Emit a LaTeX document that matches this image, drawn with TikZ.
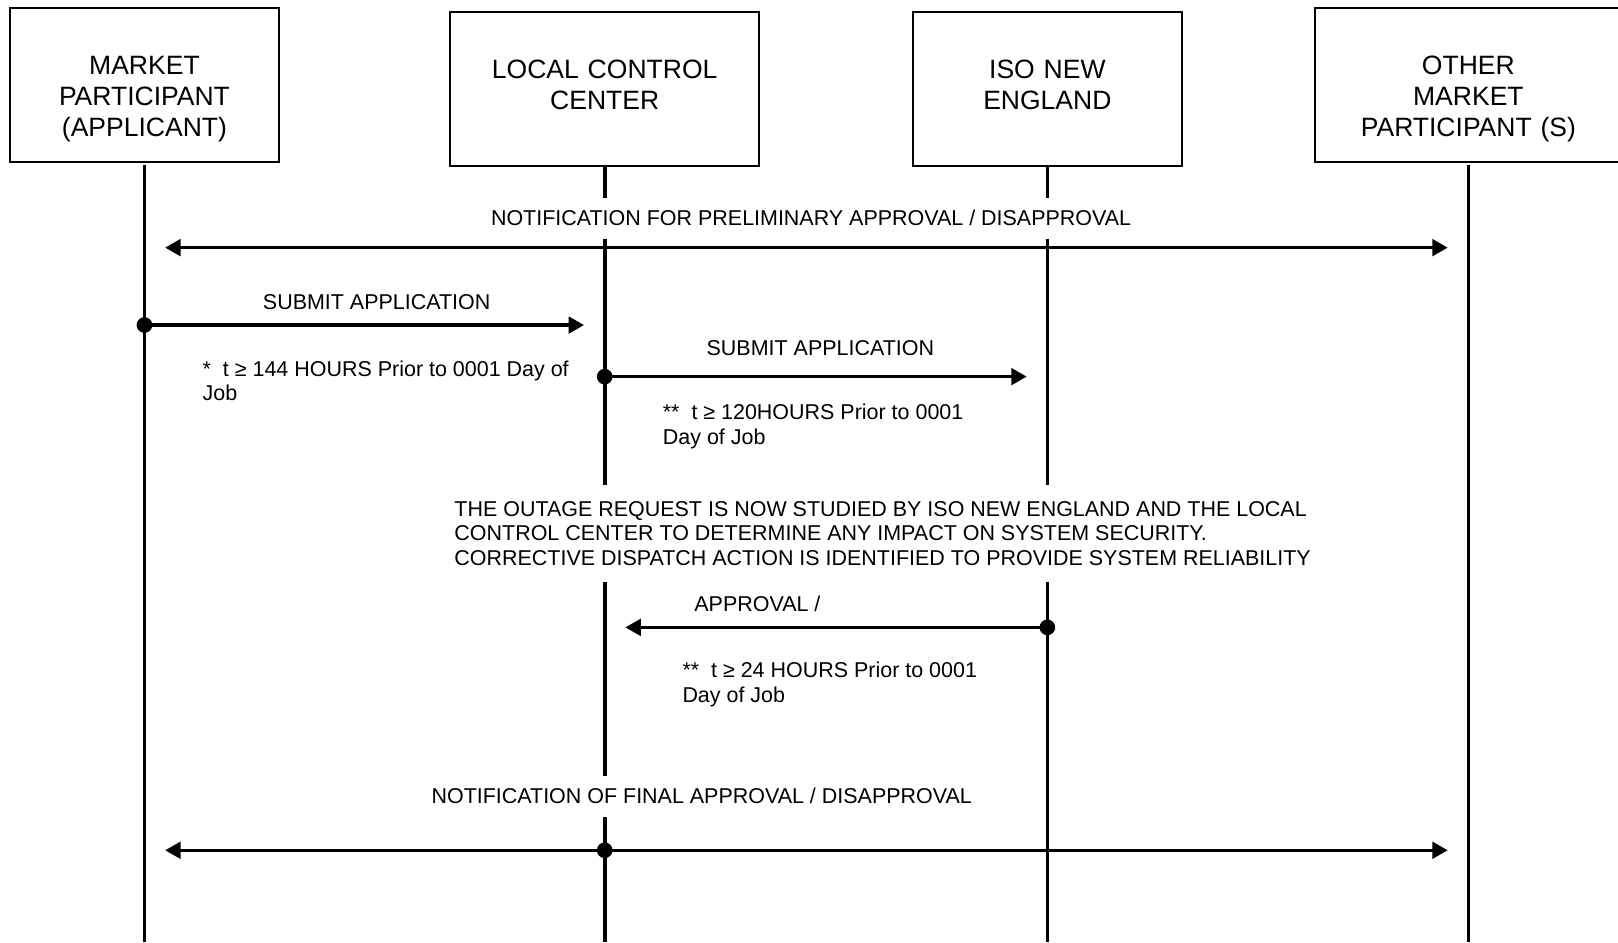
\documentclass[tikz,border=0pt]{standalone}
\usepackage{fontspec}
\setmainfont{Liberation Sans}
\usetikzlibrary{arrows.meta, positioning}

\tikzset{
  actor/.style={draw, line width=1pt, align=center, inner sep=0pt,
    minimum height=74.5pt, text height=32.1pt, text depth=42.4pt,
    font=\fontsize{12.85}{15}\selectfont},
  lifeline/.style={line width=1.8pt},
  msgtext/.style={fill=white, inner xsep=2pt, inner ysep=6pt,
    text height=7.5pt, text depth=0.5pt, font=\fontsize{10.4}{12}\selectfont},
  note/.style={align=left, inner sep=0pt, font=\fontsize{10.4}{12}\selectfont},
  study/.style={fill=white, align=left, inner xsep=2pt, inner ysep=8pt,
    font=\fontsize{10.4}{12}\selectfont},
  msg/.style={line width=1.7pt, -{Triangle[length=7.5pt,width=8pt]},
    shorten >=10pt},
  bimsg/.style={line width=1.7pt,
    {Triangle[length=7.5pt,width=8pt]}-{Triangle[length=7.5pt,width=8pt]},
    shorten >=10pt, shorten <=10pt}
}

\begin{document}
\begin{tikzpicture}[x=0.5pt, y=-0.5pt]
  \useasboundingbox (0,0) rectangle (1568,913);

  % participants
  \node[actor, text width=130.5pt, anchor=north] (mp) at (140,7)
    {MARKET\\PARTICIPANT\\(APPLICANT)};
  \node[actor, text width=149.5pt, anchor=north] (lcc) at (586,11)
    {LOCAL CONTROL\\CENTER};
  \node[actor, text width=130.5pt, anchor=north] (iso) at (1015,11)
    {ISO NEW\\ENGLAND};
  \node[actor, text width=149pt, anchor=north] (omp) at (1423,7)
    {OTHER\\MARKET\\PARTICIPANT (S)};

  % lifelines
  \foreach \p in {mp, lcc, iso, omp}
    \draw[lifeline] (\p.south |- 0,160) -- (\p.south |- 0,913);

  % points on the lifelines
  \coordinate (mp-pre)  at (mp.south  |- 0,240);
  \coordinate (omp-pre) at (omp.south |- 0,240);
  \coordinate (mp-sub)  at (mp.south  |- 0,315);
  \coordinate (lcc-in)  at (lcc.south |- 0,315);
  \coordinate (lcc-sub) at (lcc.south |- 0,365);
  \coordinate (iso-in)  at (iso.south |- 0,365);
  \coordinate (iso-apr) at (iso.south |- 0,608);
  \coordinate (lcc-apr) at (lcc.south |- 0,608);
  \coordinate (mp-fin)  at (mp.south  |- 0,824);
  \coordinate (lcc-fin) at (lcc.south |- 0,824);
  \coordinate (omp-fin) at (omp.south |- 0,824);

  % preliminary notification
  \node[msgtext] (pretext) at (786,212)
    {NOTIFICATION FOR PRELIMINARY APPROVAL / DISAPPROVAL};
  \draw[bimsg] (mp-pre) -- (omp-pre);

  % application to local control center
  \node[msgtext] (sub1) at (365,293) {SUBMIT APPLICATION};
  \draw[msg] (mp-sub) -- (lcc-in);
  \fill (mp-sub) circle (3.8pt);
  \node[note, anchor=west] (note1) at (196,369)
    {*~~t ≥ 144 HOURS Prior to 0001 Day of\\Job};

  % application to ISO New England
  \node[msgtext] (sub2) at (795,338) {SUBMIT APPLICATION};
  \draw[msg] (lcc-sub) -- (iso-in);
  \fill (lcc-sub) circle (3.8pt);
  \node[note, anchor=west] (note2) at (642,413.5)
    {**~~t ≥ 120HOURS Prior to 0001\\Day of Job};

  % study
  \node[study, anchor=west] (studytext) at (436,517)
    {THE OUTAGE REQUEST IS NOW STUDIED BY ISO NEW ENGLAND AND THE LOCAL\\
     CONTROL CENTER TO DETERMINE ANY IMPACT ON SYSTEM SECURITY.\\
     CORRECTIVE DISPATCH ACTION IS IDENTIFIED TO PROVIDE SYSTEM RELIABILITY};

  % approval back to local control center
  \node[msgtext] (apr) at (734,586) {APPROVAL /};
  \draw[msg] (iso-apr) -- (lcc-apr);
  \fill (iso-apr) circle (3.8pt);
  \node[note, anchor=west] (note3) at (661,663)
    {**~~t ≥ 24 HOURS Prior to 0001\\Day of Job};

  % final notification
  \node[msgtext] (fintext) at (680,772)
    {NOTIFICATION OF FINAL APPROVAL / DISAPPROVAL};
  \draw[bimsg] (mp-fin) -- (omp-fin);
  \fill (lcc-fin) circle (3.8pt);

\end{tikzpicture}
\end{document}
